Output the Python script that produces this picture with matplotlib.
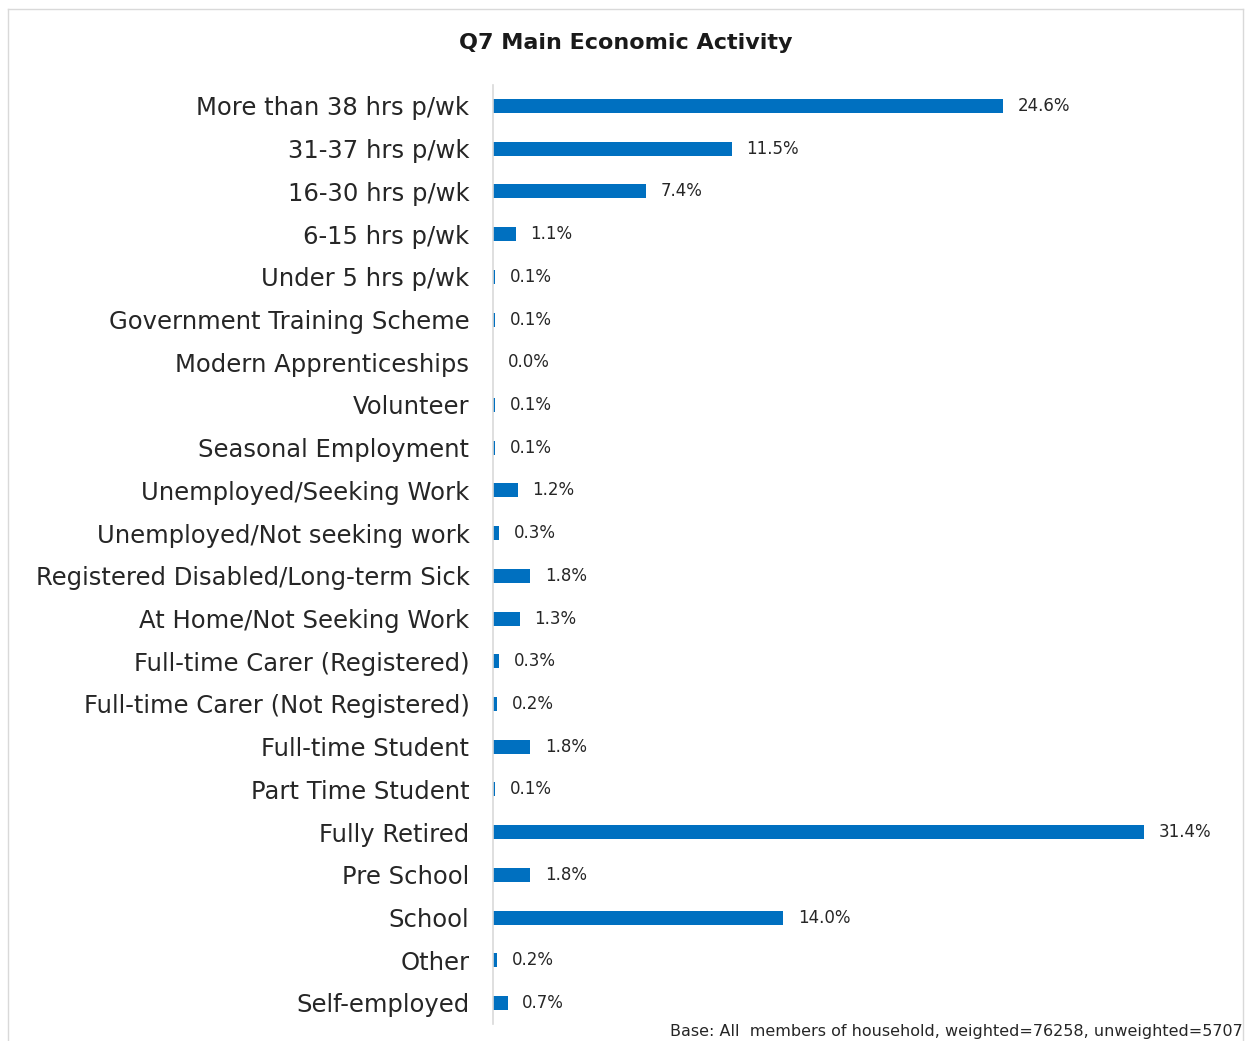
import matplotlib.pyplot as plt
from matplotlib.lines import Line2D

categories = [
    "More than 38 hrs p/wk", "31-37 hrs p/wk", "16-30 hrs p/wk", "6-15 hrs p/wk",
    "Under 5 hrs p/wk", "Government Training Scheme", "Modern Apprenticeships",
    "Volunteer", "Seasonal Employment", "Unemployed/Seeking Work",
    "Unemployed/Not seeking work", "Registered Disabled/Long-term Sick",
    "At Home/Not Seeking Work", "Full-time Carer (Registered)",
    "Full-time Carer (Not Registered)", "Full-time Student", "Part Time Student",
    "Fully Retired", "Pre School", "School", "Other", "Self-employed",
]
values = [24.6, 11.5, 7.4, 1.1, 0.1, 0.1, 0.0, 0.1, 0.1, 1.2, 0.3, 1.8,
          1.3, 0.3, 0.2, 1.8, 0.1, 31.4, 1.8, 14.0, 0.2, 0.7]

fig = plt.figure(figsize=(12.45, 10.41), dpi=100)
ax = fig.add_axes([0.396, 0.016, 0.583, 0.9027])

y = list(range(len(categories)))
ax.barh(y, values, height=0.33, color='#0070C0')
for yi, v in zip(y, values):
    ax.text(v + 0.7, yi, f"{v:.1f}%", va='center', ha='left', fontsize=12, color='#262626')

ax.set_xlim(0, 35)
ax.set_ylim(len(categories) - 0.5, -0.5)
ax.set_yticks(y)
ax.set_yticklabels(categories, fontsize=17.5, color='#262626')
ax.tick_params(axis='y', length=0, pad=17)
ax.set_xticks([])
for s in ['top', 'right', 'bottom']:
    ax.spines[s].set_visible(False)
ax.spines['left'].set_color('#D9D9D9')
ax.spines['left'].set_linewidth(1.2)

fig.text(0.503, 0.959, "Q7 Main Economic Activity", ha='center', va='center',
         fontsize=16, fontweight='bold', color='#1a1a1a')
fig.text(0.998, 0.009, "Base: All  members of household, weighted=76258, unweighted=5707",
         ha='right', va='center', fontsize=11.5, color='#262626')

# outer chart frame
c = '#D9D9D9'
fig.add_artist(Line2D([0.0064, 0.9984], [0.991, 0.991], color=c, lw=1, transform=fig.transFigure))
fig.add_artist(Line2D([0.0064, 0.0064], [0.0, 0.991], color=c, lw=1, transform=fig.transFigure))
fig.add_artist(Line2D([0.9984, 0.9984], [0.0, 0.991], color=c, lw=1, transform=fig.transFigure))

fig.savefig("out.png", dpi=100)
